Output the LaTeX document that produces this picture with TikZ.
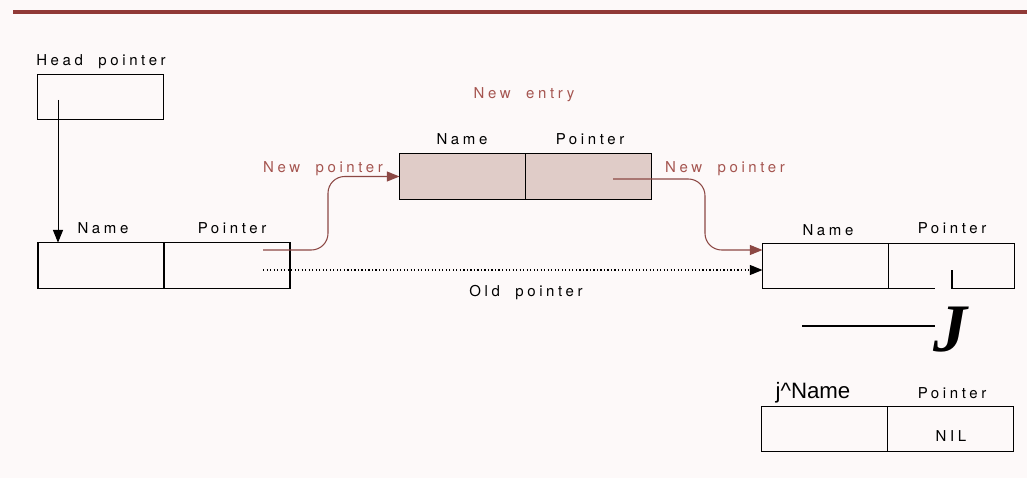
\documentclass[tikz,border=0pt]{standalone}
\usepackage{fontspec}
\setmainfont{TeX Gyre Heros}
\newfontfamily\spacedfont[LetterSpace=24,WordSpace=2]{TeX Gyre Heros}
\newfontfamily\jnamefont{Liberation Sans}
\newfontfamily\bigjfont{Liberation Serif}
\usetikzlibrary{arrows.meta,positioning}
\definecolor{paper}{RGB}{253,249,249}
\definecolor{rustred}{RGB}{165,85,80}
\definecolor{barred}{RGB}{145,58,55}
\definecolor{entryfill}{RGB}{224,204,200}

\begin{document}
\begin{tikzpicture}[x=0.03cm,y=-0.03cm,
    cell/.style={draw,line width=1.1pt,minimum width=3.78cm,minimum height=1.37cm,
                 inner sep=0pt,outer sep=0pt},
    lbl/.style={font=\spacedfont\fontsize{12.8}{15}\selectfont,anchor=base,inner sep=0pt},
    redlbl/.style={lbl,text=rustred},
    tip/.style={-{Triangle[length=3.8mm,width=3mm]}},
    newptr/.style={tip,color=rustred!85!black,line width=0.9pt,rounded corners=0.5cm}]
  \fill[paper] (0,0) rectangle (1027,478);
  \useasboundingbox (0,0) rectangle (1027,478);
  \draw[barred,line width=3.2pt] (13,12) -- (1027,12);

  % head pointer
  \node[cell] (head) at (100.5,97) {};
  \node[lbl] (headlbl) at (101,66) {Head pointer};

  % first entry
  \node[cell] (n1name) at (101,265.5) {};
  \node[cell,right=0pt of n1name] (n1ptr) {};
  \node[lbl] at (103,233) {Name};
  \node[lbl] at (232,233) {Pointer};

  % new entry
  \node[cell,fill=entryfill] (n2name) at (462.5,176.5) {};
  \node[cell,fill=entryfill,right=0pt of n2name] (n2ptr) {};
  \node[redlbl] at (524,99) {New entry};
  \node[lbl] at (462,145) {Name};
  \node[lbl] at (590,145) {Pointer};
  \node[redlbl] at (323,172) {New pointer};
  \node[redlbl] at (725,172) {New pointer};

  % next entry
  \node[cell] (n3name) at (825.5,266) {};
  \node[cell,right=0pt of n3name] (n3ptr) {};
  \node[lbl] at (828,235) {Name};
  \node[lbl] at (952,233) {Pointer};

  % last entry
  \node[cell] (n4name) at (824.5,429) {};
  \node[cell,right=0pt of n4name] (n4ptr) {};
  \node[anchor=base,inner sep=0pt,font=\jnamefont\fontsize{19}{22}\selectfont]
    at (813,398) {j\textasciicircum Name};
  \node[lbl] at (952,398) {Pointer};
  \node[lbl] at (951,441) {NIL};

  % pointers
  \coordinate (hp) at (58,100);
  \draw[tip,line width=0.8pt] (hp) -- (hp |- n1name.north);
  \coordinate (s1) at (263,250);
  \draw[newptr] (s1) -- ++(65,0) |- (n2name.west);
  \coordinate (s2) at (613,179);
  \draw[newptr] (s2) -- ++(92,0) |- ([yshift=0.48cm]n3name.west);
  \coordinate (s3) at (263,270);
  \draw[tip,dotted,line width=1pt] (s3) -- ([yshift=-0.12cm]n3name.west);
  \node[lbl] at (526,296) {Old pointer};

  % broken link to last entry
  \draw[paper,line width=2.4pt] (935,289) -- (951,289);
  \coordinate (tick) at (952,270);
  \draw[line width=1pt] (tick) -- (tick |- n3ptr.south);
  \draw[line width=0.9pt] (802,326) -- (935,326);
  \node[font=\bigjfont\fontsize{58}{58}\selectfont\bfseries\itshape] (jglyph) at (950,330) {J};
\end{tikzpicture}
\end{document}
